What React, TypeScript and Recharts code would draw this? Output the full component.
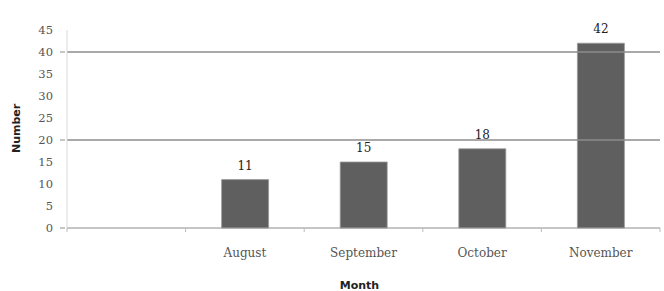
import { BarChart, Bar, XAxis, YAxis, ReferenceLine, LabelList } from 'recharts';

const months = ['', 'August', 'September', 'October', 'November'];
const counts = [null, 11, 15, 18, 42];
const yTicks = [0, 5, 10, 15, 20, 25, 30, 35, 40, 45];
const gridValues = [20, 40];

const data = months.map((m, i) => ({ month: m, number: counts[i] }));

const W = 664;
const H = 291;
const LEFT = 67;
const RIGHT = 4;
const band = (W - LEFT - RIGHT) / months.length;

const YTick = (props: any) => {
    const { x, y, payload } = props;
    const major = payload.value % 20 === 0;
    return (
        <g>
            {major && <line x1={x + 1} x2={x + 6} y1={y} y2={y} stroke="#8c8c8c" />}
            <text x={x - 6} y={y} dy={4} textAnchor="end" fontSize={11.5} fill="#555" fontFamily="DejaVu Serif, serif">
                {payload.value}
            </text>
        </g>
    );
};

const XTick = (props: any) => {
    const { x, y, payload, index } = props;
    const left = x - band / 2;
    return (
        <g>
            <line x1={left} x2={left} y1={y - 8} y2={y - 4} stroke="#bbb" />
            {index === months.length - 1 && (
                <line x1={left + band} x2={left + band} y1={y - 8} y2={y - 4} stroke="#bbb" />
            )}
            <text x={x} y={y} dy={21} textAnchor="middle" fontSize={12} fill="#555" fontFamily="DejaVu Serif, serif">
                {payload.value}
            </text>
        </g>
    );
};

export default function App() {
    return (
        <div style={{ position: 'absolute', left: 0, top: 0, background: '#fff' }}>
            <BarChart width={W} height={H} data={data} margin={{ top: 30, right: RIGHT, left: 0, bottom: 0 }} barCategoryGap="30%">
                <XAxis
                    dataKey="month"
                    height={63}
                    axisLine={{ stroke: '#8c8c8c' }}
                    tickLine={false}
                    tick={<XTick />}
                    interval={0}
                    label={{ value: 'Month', position: 'insideBottom', offset: 2, dx: -4, fontSize: 11, fontWeight: 'bold', fill: '#222', fontFamily: 'DejaVu Sans, sans-serif' }}
                />
                <YAxis
                    width={LEFT}
                    domain={[0, 45]}
                    ticks={yTicks}
                    interval={0}
                    axisLine={{ stroke: '#d9d9d9' }}
                    tickLine={false}
                    tick={<YTick />}
                    label={{ value: 'Number', angle: -90, position: 'insideLeft', offset: 16, dy: 24, fontSize: 11, fontWeight: 'bold', fill: '#222', fontFamily: 'DejaVu Sans, sans-serif' }}
                />
                {gridValues.map((v) => (
                    <ReferenceLine key={v} y={v} stroke="#8c8c8c" strokeWidth={1.5} />
                ))}
                <Bar dataKey="number" fill="#5f5f5f" stroke="#9a9a9a" strokeWidth={0.8} isAnimationActive={false} barSize={47}>
                    <LabelList dataKey="number" position="top" offset={10} fontSize={12} fill="#222" fontFamily="DejaVu Serif, serif" />
                </Bar>
            </BarChart>
        </div>
    );
}
